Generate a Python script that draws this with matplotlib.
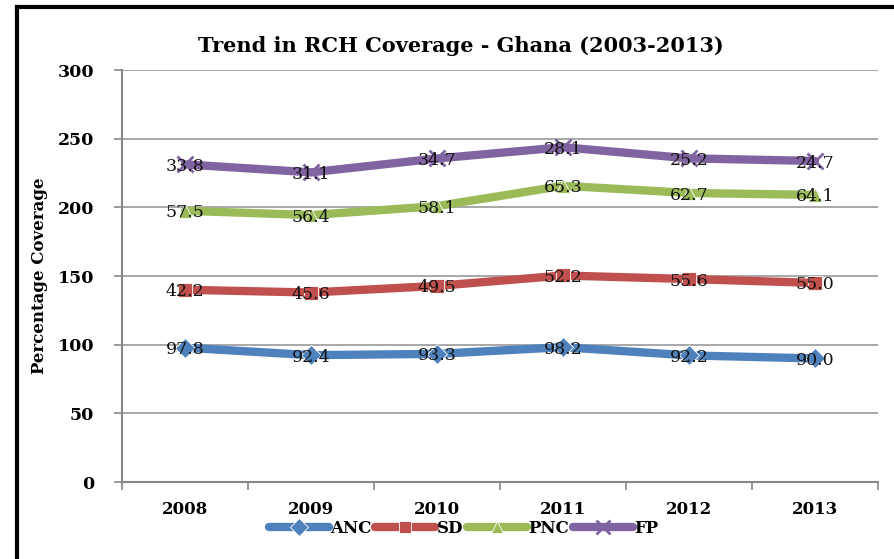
import numpy as np
import matplotlib
matplotlib.use("Agg")
import matplotlib.pyplot as plt
from matplotlib.lines import Line2D

years = ["2008", "2009", "2010", "2011", "2012", "2013"]
anc = [97.8, 92.4, 93.3, 98.2, 92.2, 90.0]
sd = [42.2, 45.6, 49.5, 52.2, 55.6, 55.0]
pnc = [57.5, 56.4, 58.1, 65.3, 62.7, 64.1]
fp = [33.8, 31.1, 34.7, 28.1, 25.2, 24.7]

names = ["ANC", "SD", "PNC", "FP"]
colors = ["#4F81BD", "#C0504D", "#9BBB59", "#8064A2"]
markers = ["D", "s", "^", "x"]

plt.rcParams['font.family'] = ['DejaVu Serif']

fig = plt.figure(figsize=(8.95, 5.59), dpi=100)
ax = fig.add_axes([0.1363, 0.1377, 0.8447, 0.737])

x = np.arange(len(years))
series = [anc, sd, pnc, fp]
base = np.zeros(len(years))
handles = []
for vals, name, c, m in zip(series, names, colors, markers):
    cum = base + np.array(vals)
    if m == "x":
        h, = ax.plot(x, cum, color=c, lw=6, marker=m, ms=11, mew=2, solid_capstyle="round")
    else:
        h, = ax.plot(x, cum, color=c, lw=6, marker=m, ms=10, mfc=c, mec="white", mew=0.6,
                     solid_capstyle="round")
    for xi, yi, v in zip(x, cum, vals):
        ax.text(xi, yi - 1.5, f"{v:.1f}", ha="center", va="center", fontsize=12.5, color="#111111")
    handles.append(h)
    base = cum

ax.set_xlim(-0.5, len(years) - 0.5)
ax.set_ylim(0, 300)
ax.set_yticks(range(0, 301, 50))
ax.set_xticks(x)
ax.set_xticklabels(years, fontsize=12, fontweight="bold")
ax.set_xticks(np.arange(-0.5, len(years)), minor=True)
ax.tick_params(axis="x", which="major", length=0, pad=14)
ax.tick_params(axis="x", which="minor", length=6, color="#888888", width=1.2)
ax.tick_params(axis="y", length=6, color="#888888", width=1.2, labelsize=12.5, pad=14)
for lab in ax.get_yticklabels():
    lab.set_fontweight("bold")
ax.grid(axis="y", color="#999999", lw=1.2)
ax.set_axisbelow(True)
for s in ["top", "right"]:
    ax.spines[s].set_visible(False)
for s in ["left", "bottom"]:
    ax.spines[s].set_color("#888888")
    ax.spines[s].set_linewidth(1.5)

ax.set_ylabel("Percentage Coverage", fontsize=12, fontweight="bold")
ax.yaxis.set_label_coords(-0.098, 0.5)
fig.text(0.515, 0.918, "Trend in RCH Coverage - Ghana (2003-2013)", ha="center", va="center",
         fontsize=15, fontweight="bold")

leg = fig.legend(handles, names, loc="center", bbox_to_anchor=(0.518, 0.055), ncol=4, frameon=False,
                 handlelength=3.6, columnspacing=0.2, handletextpad=0.1, markerscale=0.9,
                 prop={"weight": "bold", "size": 12})

# frame around the chart
fig.add_artist(Line2D([0.019, 1.0], [0.9875, 0.9875], transform=fig.transFigure, color="black", lw=3))
fig.add_artist(Line2D([0.019, 0.019], [0.0, 0.9875], transform=fig.transFigure, color="black", lw=3))

fig.savefig("out.png", dpi=100)
